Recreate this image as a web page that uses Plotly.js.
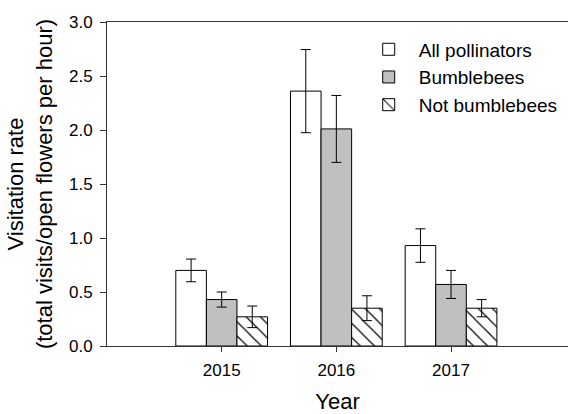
<!DOCTYPE html>
<html>
<head>
<meta charset="utf-8">
<script src="https://cdn.plot.ly/plotly-3.0.1.min.js"></script>
<style>html,body{margin:0;padding:0;background:#fff;}#chart{width:568px;height:414px;}</style>
</head>
<body>
<div id="chart"></div>
<script>
var years = [2015, 2016, 2017];
var yearLabels = ['2015', '2016', '2017'];
var allPollinators = [0.70, 2.36, 0.93];
var allPollinatorsErr = [0.105, 0.385, 0.155];
var bumblebees = [0.43, 2.01, 0.57];
var bumblebeesErr = [0.07, 0.31, 0.13];
var notBumblebees = [0.27, 0.35, 0.35];
var notBumblebeesErr = [0.10, 0.115, 0.08];

var font = 'Liberation Sans, Arial, sans-serif';
function err(a){return {type:'data', array:a, visible:true, color:'#000', thickness:1, width:5};}

var traces = [
  {type:'bar', name:'All pollinators', x:years, y:allPollinators, error_y:err(allPollinatorsErr),
   marker:{color:'#ffffff', line:{color:'#000', width:1}}},
  {type:'bar', name:'Bumblebees', x:years, y:bumblebees, error_y:err(bumblebeesErr),
   marker:{color:'#c0c0c0', line:{color:'#000', width:1}}},
  {type:'bar', name:'Not bumblebees', x:years, y:notBumblebees, error_y:err(notBumblebeesErr),
   marker:{color:'#ffffff', line:{color:'#000', width:1},
     pattern:{shape:'\\', size:10, solidity:0.12, fgcolor:'#000', bgcolor:'#ffffff'}}}
];

var layout = {
  width:568, height:414,
  margin:{l:107, r:0, t:22, b:68},
  paper_bgcolor:'#fff', plot_bgcolor:'#fff',
  font:{family:font, color:'#000'},
  barmode:'group', bargap:0.2, bargroupgap:0,
  showlegend:true,
  legend:{x:0.546, y:0.974, xanchor:'left', yanchor:'top', font:{size:19, family:font},
    bgcolor:'rgba(0,0,0,0)', itemwidth:50, tracegroupgap:0},
  xaxis:{range:[2014, 2018.02], tickvals:years, ticktext:yearLabels, ticks:'outside', ticklen:5,
    tickcolor:'#333', showline:true, linecolor:'#333', linewidth:1, mirror:true, showgrid:false, zeroline:false,
    ticklabelstandoff:4,
    tickfont:{size:17}, title:{text:'Year', font:{size:22}, standoff:16}},
  yaxis:{range:[0, 3], dtick:0.5, tickformat:'.1f', ticks:'outside', ticklen:6, tickcolor:'#333',
    showline:true, linecolor:'#333', linewidth:1, mirror:false, showgrid:false, zeroline:false,
    ticklabelstandoff:4,
    tickfont:{size:17}, title:{text:'Visitation rate<br>(total visits/open flowers per hour)', font:{size:22}, standoff:10}}
};

Plotly.newPlot('chart', traces, layout, {displayModeBar:false, staticPlot:true});
</script>
</body>
</html>
